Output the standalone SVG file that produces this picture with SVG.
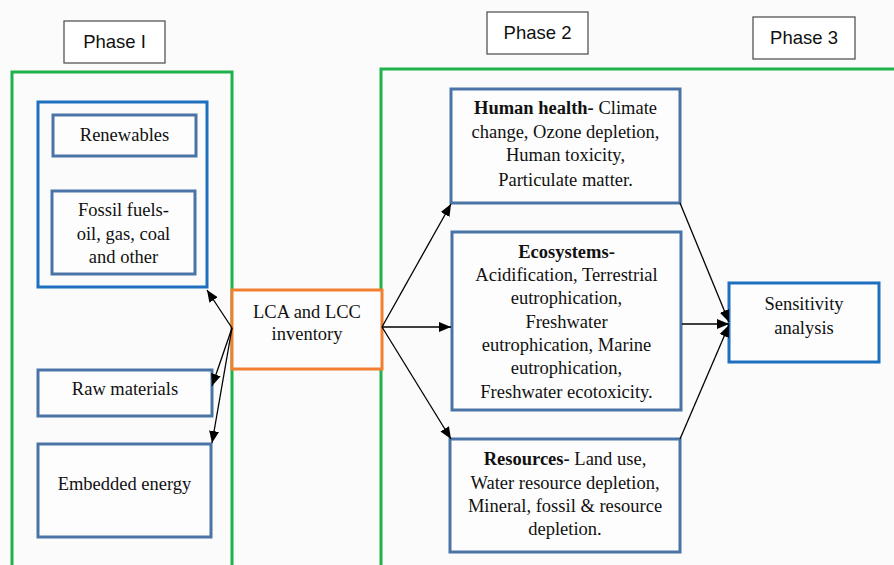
<svg xmlns="http://www.w3.org/2000/svg" width="894" height="565" viewBox="0 0 894 565">
<defs>
<marker id="ah" viewBox="0 0 12 12" refX="12" refY="6" markerWidth="12" markerHeight="12" markerUnits="userSpaceOnUse" orient="auto">
<path d="M0,1 L12,6 L0,11 z" fill="#000"/>
</marker>
<style>
.phase{fill:#fff;stroke:#555;stroke-width:1.3}
.pt{font-family:"Liberation Sans",Arial,sans-serif;font-size:18.5px;fill:#111;text-anchor:middle}
.grn{fill:none;stroke:#1fb24a;stroke-width:3}
.blu{fill:none;stroke:#1f6fc0;stroke-width:3}
.box{fill:#fdfdfd;stroke:#4a74a5;stroke-width:3}
.org{fill:#fdfdfd;stroke:#f07f30;stroke-width:3}
.sen{fill:#fdfdfd;stroke:#1f6fc0;stroke-width:3}
.t{font-family:"Liberation Serif","Times New Roman",serif;font-size:18.5px;fill:#111;text-anchor:middle}
.b{font-weight:bold}
.c{fill:none;stroke:#000;stroke-width:1.3}
</style>
</defs>
<rect width="894" height="565" fill="#fbfbfb"/>
<g id="phase1"><rect class="phase" x="64" y="21" width="101" height="42"/><text class="pt" x="114.5" y="48">Phase I</text></g>
<g id="phase2"><rect class="phase" x="487" y="12" width="101" height="42"/><text class="pt" x="537.5" y="39">Phase 2</text></g>
<g id="phase3"><rect class="phase" x="753" y="17" width="102" height="42"/><text class="pt" x="804" y="44">Phase 3</text></g>
<g id="group-left"><rect class="grn" x="12" y="72" width="220" height="500"/></g>
<g id="group-right"><rect class="grn" x="381" y="69" width="520" height="503"/></g>
<g id="energy-sources"><rect class="blu" x="38" y="102" width="169" height="185"/></g>
<g id="renewables"><rect class="box" x="53" y="115" width="143" height="41"/><text class="t" x="124.5" y="141">Renewables</text></g>
<g id="fossil"><rect class="box" x="52" y="191" width="143" height="83"/>
<text class="t" x="123.5" y="216">Fossil fuels-</text><text class="t" x="123.5" y="240">oil, gas, coal</text><text class="t" x="123.5" y="263">and other</text></g>
<g id="raw"><rect class="box" x="38" y="370" width="174" height="46"/><text class="t" x="125" y="395">Raw materials</text></g>
<g id="embedded"><rect class="box" x="38" y="444" width="173" height="93"/><text class="t" x="124.5" y="490">Embedded energy</text></g>
<g id="lca"><rect class="org" x="232" y="290" width="150" height="79"/>
<text class="t" x="307" y="318">LCA and LCC</text><text class="t" x="307" y="340">inventory</text></g>
<g id="human"><rect class="box" x="451" y="89" width="229" height="114"/>
<text class="t" x="565.5" y="114"><tspan class="b">Human health-</tspan> Climate</text>
<text class="t" x="565.5" y="138">change, Ozone depletion,</text>
<text class="t" x="565.5" y="161">Human toxicity,</text>
<text class="t" x="565.5" y="186">Particulate matter.</text></g>
<g id="eco"><rect class="box" x="452" y="232" width="229" height="178"/>
<text class="t" x="566.5" y="258"><tspan class="b">Ecosystems-</tspan></text>
<text class="t" x="566.5" y="281">Acidification, Terrestrial</text>
<text class="t" x="566.5" y="304">eutrophication,</text>
<text class="t" x="566.5" y="328">Freshwater</text>
<text class="t" x="566.5" y="351">eutrophication, Marine</text>
<text class="t" x="566.5" y="374">eutrophication,</text>
<text class="t" x="566.5" y="398">Freshwater ecotoxicity.</text></g>
<g id="resources"><rect class="box" x="450" y="439" width="230" height="113"/>
<text class="t" x="565" y="465"><tspan class="b">Resources-</tspan> Land use,</text>
<text class="t" x="565" y="489">Water resource depletion,</text>
<text class="t" x="565" y="512">Mineral, fossil &amp; resource</text>
<text class="t" x="565" y="535">depletion.</text></g>
<g id="sensitivity"><rect class="sen" x="729" y="283" width="150" height="79"/>
<text class="t" x="804" y="310">Sensitivity</text><text class="t" x="804" y="334">analysis</text></g>
<g id="connectors">
<line class="c" x1="232" y1="328" x2="207" y2="290" marker-end="url(#ah)"/>
<line class="c" x1="232" y1="328" x2="212" y2="386" marker-end="url(#ah)"/>
<line class="c" x1="232" y1="328" x2="212" y2="443" marker-end="url(#ah)"/>
<line class="c" x1="382" y1="327" x2="451" y2="204" marker-end="url(#ah)"/>
<line class="c" x1="382" y1="327" x2="451" y2="327" marker-end="url(#ah)"/>
<line class="c" x1="382" y1="327" x2="451" y2="439" marker-end="url(#ah)"/>
<line class="c" x1="680" y1="203" x2="729" y2="322" marker-end="url(#ah)"/>
<line class="c" x1="682" y1="324" x2="729" y2="324" marker-end="url(#ah)"/>
<line class="c" x1="680" y1="439" x2="729" y2="325" marker-end="url(#ah)"/>
</g>
</svg>
